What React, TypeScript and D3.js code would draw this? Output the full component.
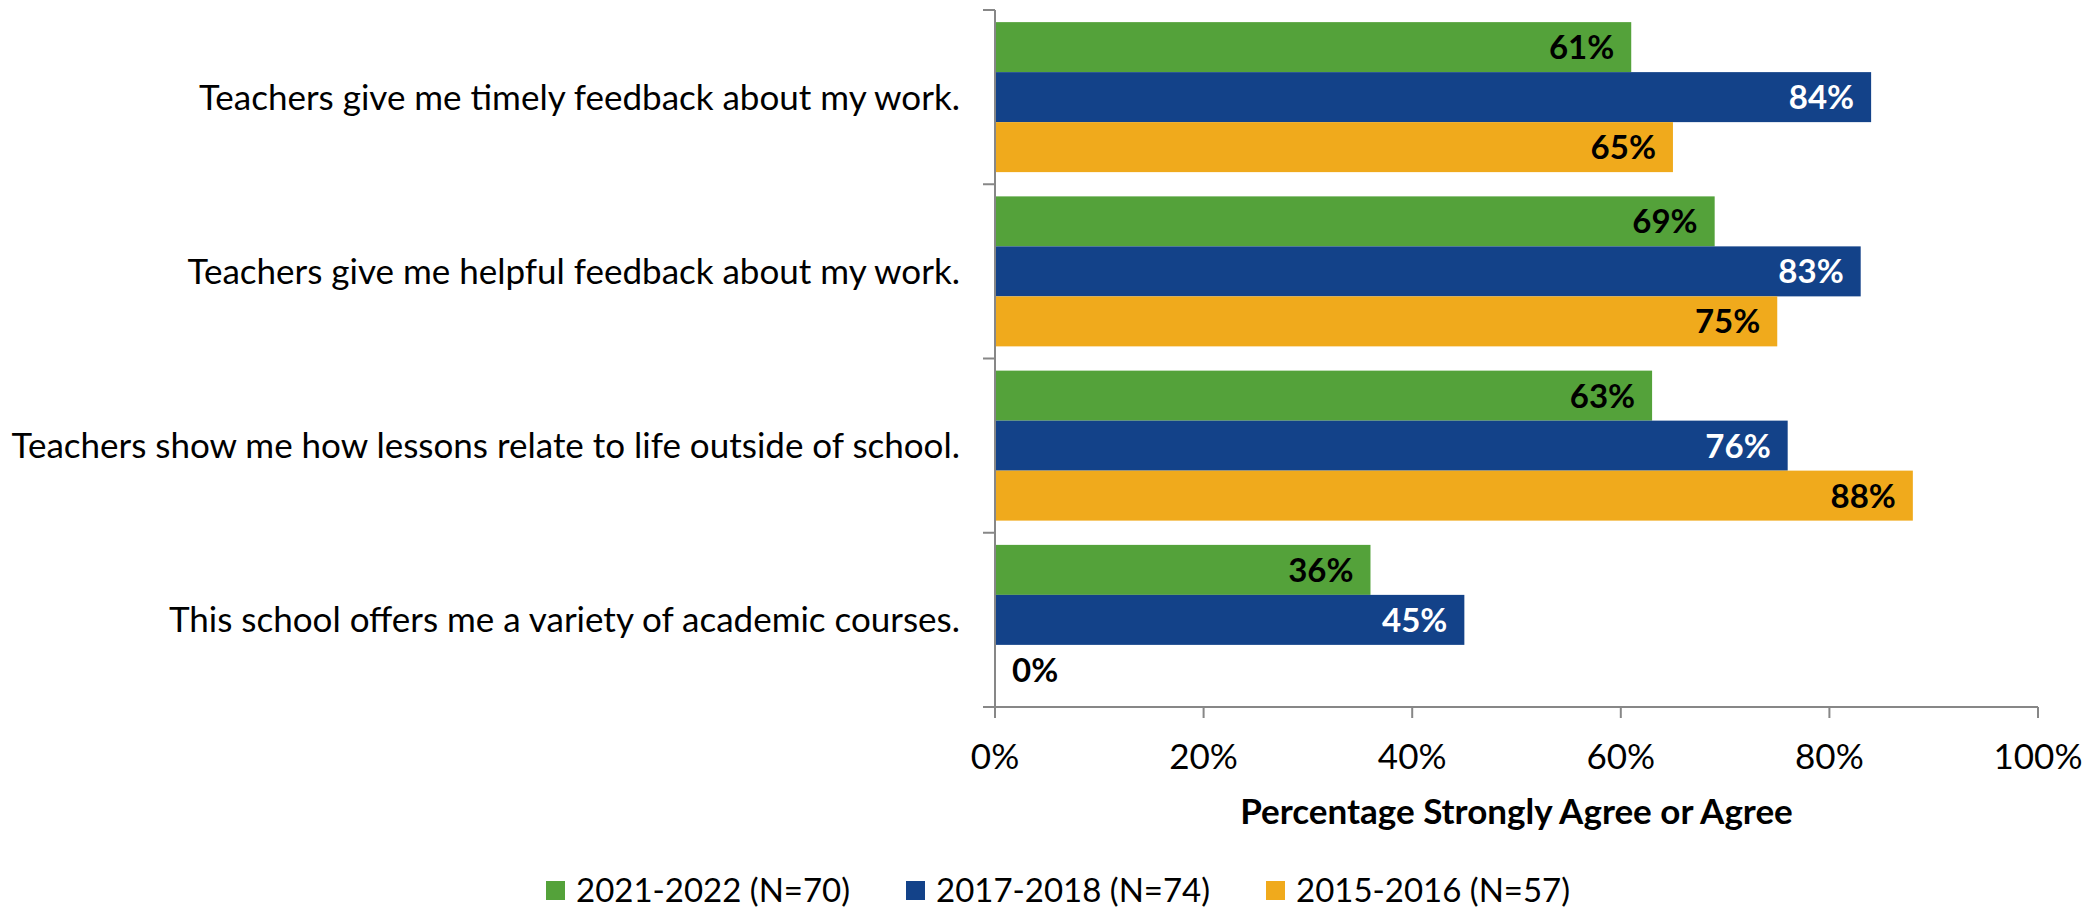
import React from "react";
import * as d3 from "d3";

const categories = [
  "Teachers give me timely feedback about my work.",
  "Teachers give me helpful feedback about my work.",
  "Teachers show me how lessons relate to life outside of school.",
  "This school offers me a variety of academic courses.",
];
const seriesNames = ["2021-2022 (N=70)", "2017-2018 (N=74)", "2015-2016 (N=57)"];
const values2122 = [61, 69, 63, 36];
const values1718 = [84, 83, 76, 45];
const values1516 = [65, 75, 88, 0];
const xTicks = [0, 20, 40, 60, 80, 100];
const colors = ["#54A23A", "#134289", "#F0AA1C"];
const labelColors = ["#000000", "#FFFFFF", "#000000"];
const xTitle = "Percentage Strongly Agree or Agree";

const W = 2097;
const H = 909;
const FONT = "Lato, 'Open Sans', sans-serif";

export default function App() {
  const left = 995;
  const right = 2038;
  const top = 10;
  const bottom = 707;
  const seriesValues = [values2122, values1718, values1516];

  const x = d3.scaleLinear().domain([0, 100]).range([left, right]);
  const y = d3
    .scaleBand<string>()
    .domain(categories)
    .range([top, bottom])
    .paddingInner(0.1392)
    .paddingOuter(0.0696);
  const inner = d3
    .scaleBand<string>()
    .domain(seriesNames)
    .range([0, y.bandwidth()])
    .padding(0);
  const step = y.step();
  const boundaries = d3.range(categories.length + 1).map((i) => top + i * step);
  const axisColor = "#878787";

  return (
    <svg
      width={W}
      height={H}
      style={{ position: "absolute", left: 0, top: 0, display: "block", background: "#fff" }}
      fontFamily={FONT}
    >
      {/* bars */}
      {categories.map((c, ci) => (
        <g key={c} transform={`translate(0,${y(c)})`}>
          {seriesNames.map((s, si) => {
            const v = seriesValues[si][ci];
            const y0 = inner(s) as number;
            const bh = inner.bandwidth();
            const xe = x(v);
            return (
              <g key={s}>
                {v > 0 && (
                  <rect x={x(0)} y={y0} width={xe - x(0)} height={bh} fill={colors[si]} />
                )}
                <text
                  x={v > 0 ? xe - 17 : x(0) + 17}
                  y={y0 + bh / 2}
                  dy="0.36em"
                  textAnchor={v > 0 ? "end" : "start"}
                  fontSize={33}
                  fontWeight="bold"
                  fill={v > 0 ? labelColors[si] : "#000"}
                >
                  {v}%
                </text>
              </g>
            );
          })}
        </g>
      ))}

      {/* y axis */}
      <line x1={left} x2={left} y1={top} y2={bottom} stroke={axisColor} strokeWidth={2} />
      {boundaries.map((b, i) => (
        <line key={i} x1={left - 12} x2={left} y1={b} y2={b} stroke={axisColor} strokeWidth={2} />
      ))}
      {categories.map((c) => (
        <text
          key={c}
          x={960}
          y={(y(c) as number) + y.bandwidth() / 2}
          dy="0.36em"
          textAnchor="end"
          fontSize={35}
          fill="#000"
        >
          {c}
        </text>
      ))}

      {/* x axis */}
      <line x1={left - 12} x2={right} y1={bottom} y2={bottom} stroke={axisColor} strokeWidth={2} />
      {xTicks.map((t) => (
        <g key={t}>
          <line x1={x(t)} x2={x(t)} y1={bottom} y2={bottom + 11} stroke={axisColor} strokeWidth={2} />
          <text x={x(t)} y={756} dy="0.36em" textAnchor="middle" fontSize={35} fill="#000">
            {t}%
          </text>
        </g>
      ))}
      <text
        x={(left + right) / 2}
        y={811}
        dy="0.36em"
        textAnchor="middle"
        fontSize={35}
        fontWeight="bold"
        fill="#000"
      >
        {xTitle}
      </text>

      {/* legend */}
      {seriesNames.map((s, i) => {
        const lx = 546 + i * 360;
        return (
          <g key={s}>
            <rect x={lx} y={881} width={19} height={19} fill={colors[i]} />
            <text x={lx + 30} y={902} fontSize={33} fill="#000">
              {s}
            </text>
          </g>
        );
      })}
    </svg>
  );
}
